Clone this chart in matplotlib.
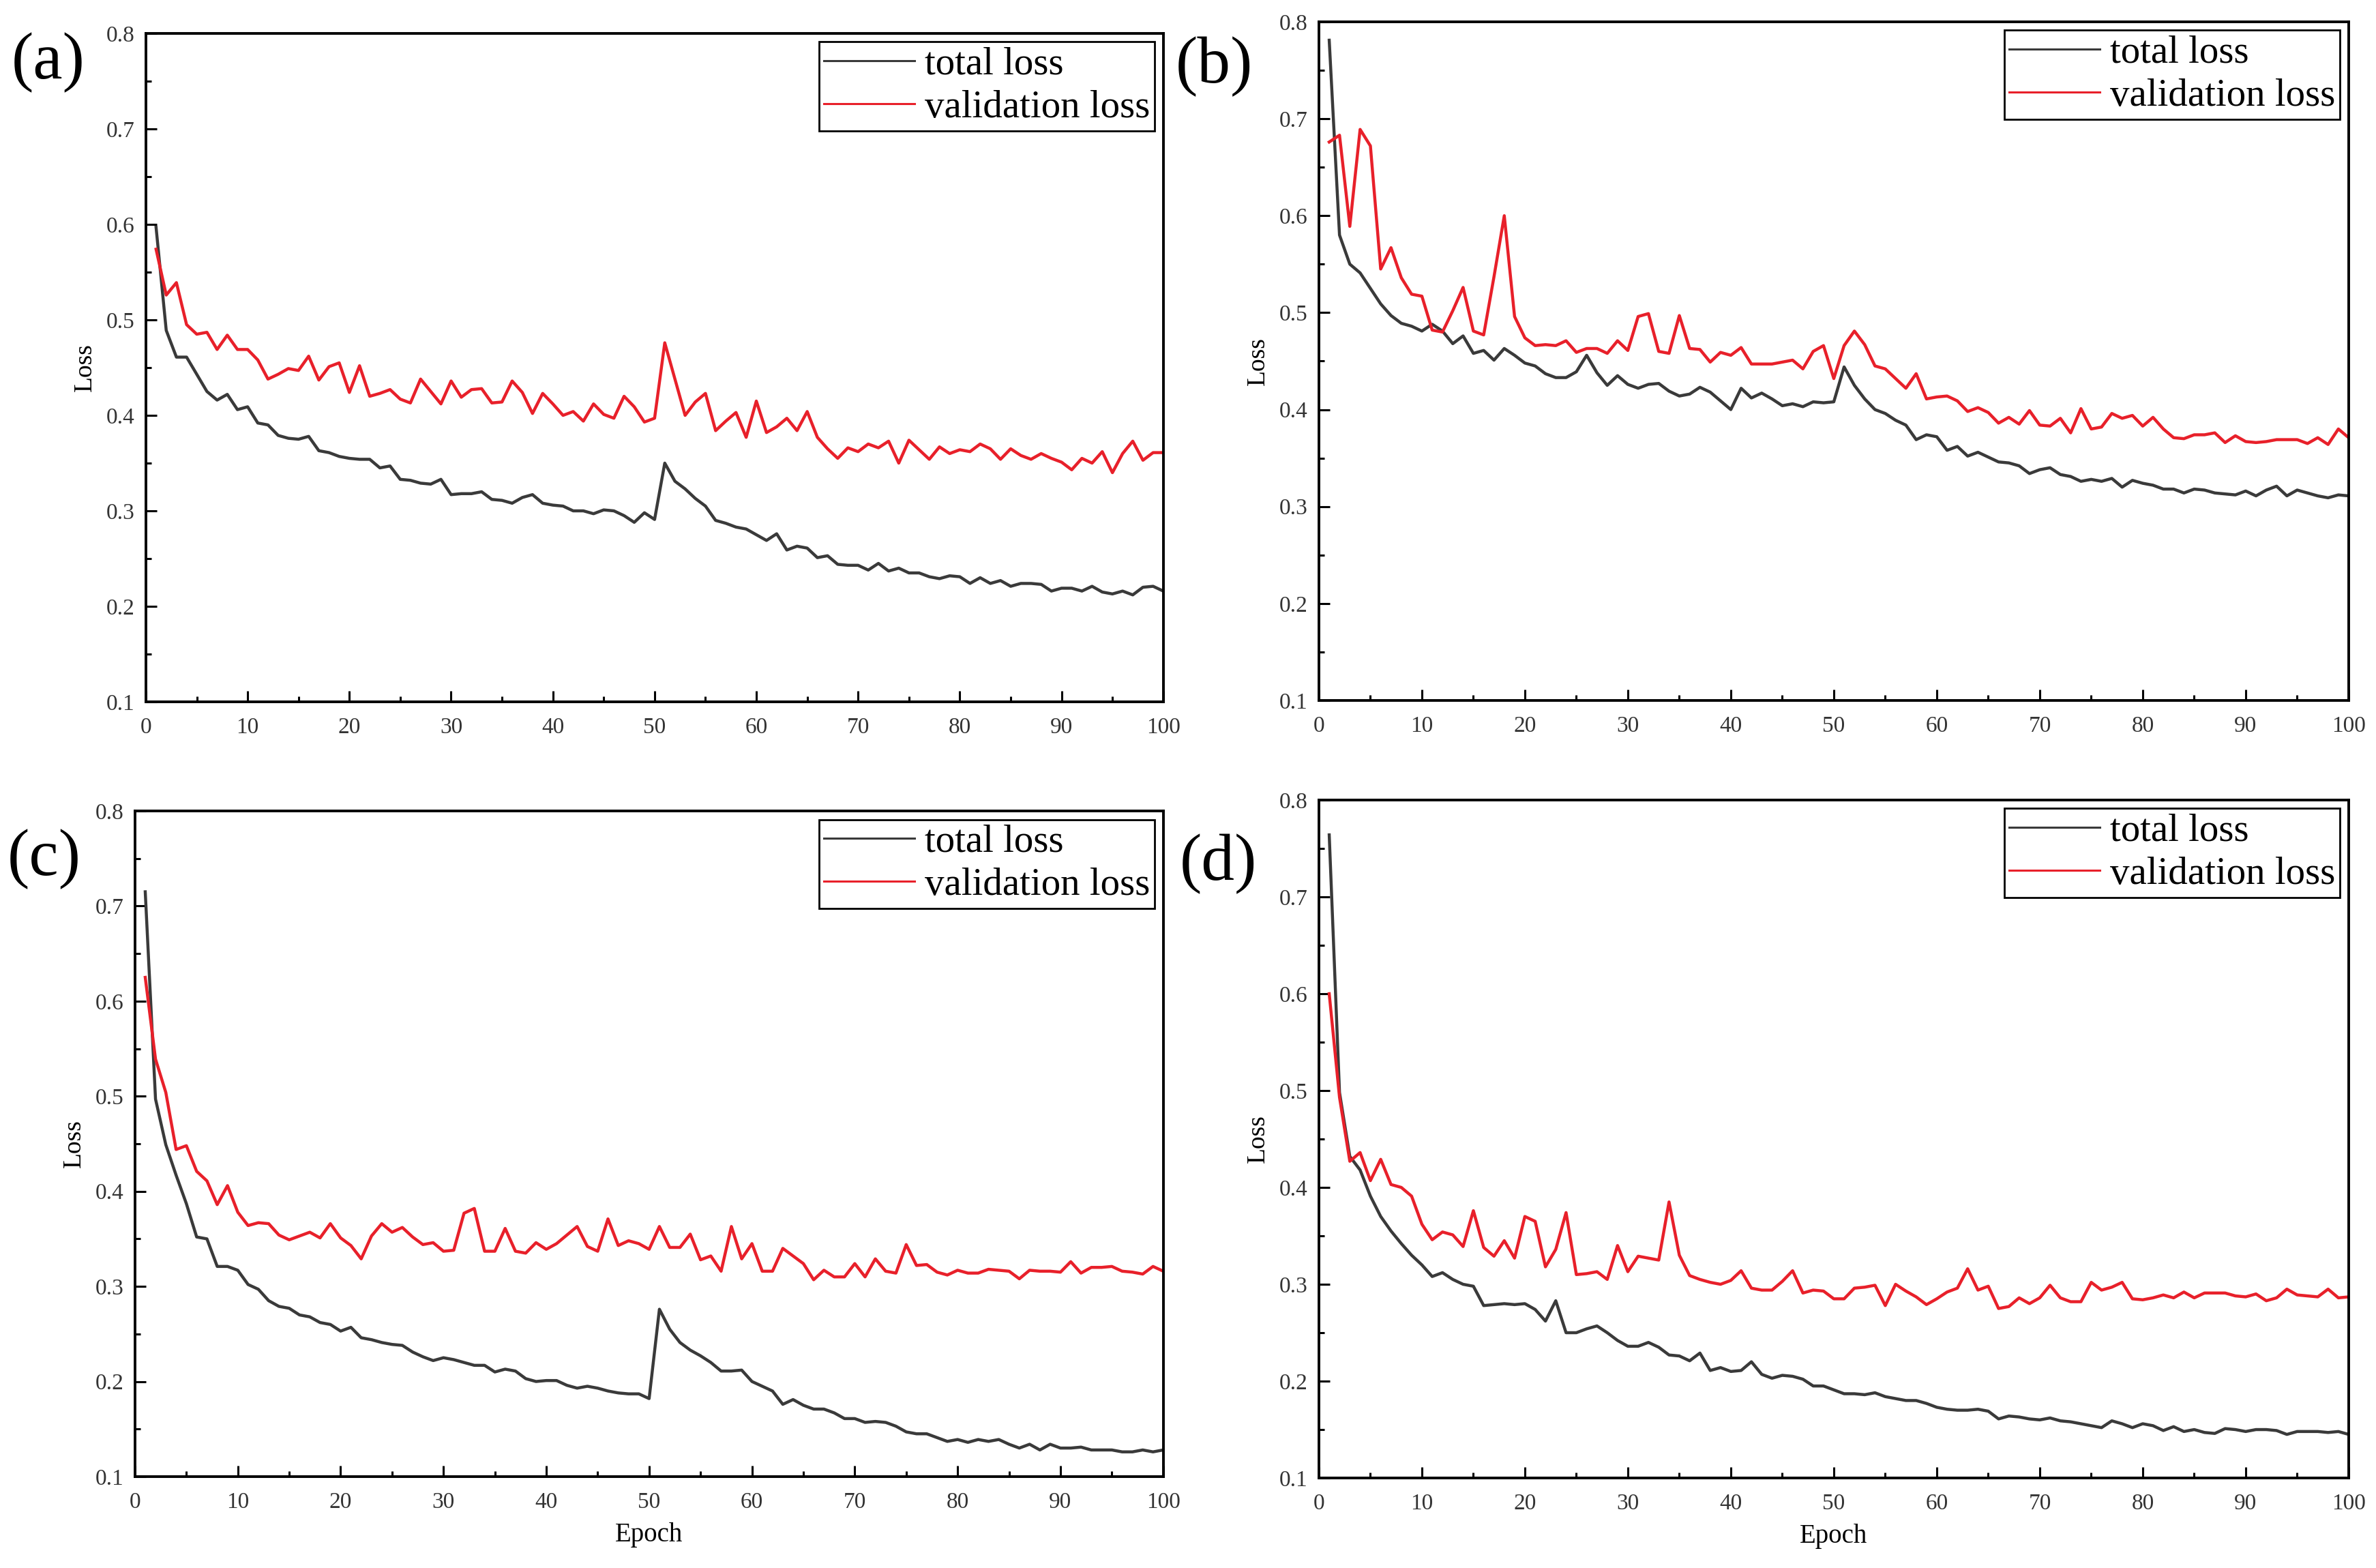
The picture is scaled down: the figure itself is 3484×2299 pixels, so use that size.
"""Training / validation loss curves for four runs, 2x2 panel figure."""
import matplotlib
matplotlib.use("Agg")
import matplotlib.pyplot as plt
from matplotlib.ticker import MultipleLocator, FormatStrFormatter

plt.rcParams["font.family"] = "serif"
plt.rcParams["font.serif"] = ["Liberation Serif", "DejaVu Serif"]

epochs = list(range(1, 101))

a_total = [
    0.597, 0.489, 0.461, 0.461, 0.443, 0.425, 0.416, 0.422, 0.406, 0.409,
    0.392, 0.390, 0.379, 0.376, 0.375, 0.378, 0.363, 0.361, 0.357, 0.355,
    0.354, 0.354, 0.345, 0.347, 0.333, 0.332, 0.329, 0.328, 0.333, 0.317,
    0.318, 0.318, 0.320, 0.312, 0.311, 0.308, 0.314, 0.317, 0.308, 0.306,
    0.305, 0.300, 0.300, 0.297, 0.301, 0.300, 0.295, 0.288, 0.298, 0.291,
    0.350, 0.331, 0.323, 0.313, 0.305, 0.290, 0.287, 0.283, 0.281, 0.275,
    0.269, 0.276, 0.259, 0.263, 0.261, 0.251, 0.253, 0.244, 0.243, 0.243,
    0.238, 0.245, 0.237, 0.240, 0.235, 0.235, 0.231, 0.229, 0.232, 0.231,
    0.224, 0.230, 0.224, 0.227, 0.221, 0.224, 0.224, 0.223, 0.216, 0.219,
    0.219, 0.216, 0.221, 0.215, 0.213, 0.216, 0.212, 0.220, 0.221, 0.216,
]
a_val = [
    0.574, 0.526, 0.539, 0.495, 0.485, 0.487, 0.469, 0.484, 0.469, 0.469,
    0.458, 0.438, 0.443, 0.449, 0.447, 0.462, 0.437, 0.451, 0.455, 0.424,
    0.452, 0.420, 0.423, 0.427, 0.417, 0.413, 0.438, 0.425, 0.412, 0.436,
    0.419, 0.427, 0.428, 0.413, 0.414, 0.436, 0.424, 0.402, 0.423, 0.412,
    0.400, 0.404, 0.394, 0.412, 0.401, 0.397, 0.420, 0.409, 0.393, 0.397,
    0.476, 0.438, 0.400, 0.414, 0.423, 0.384, 0.394, 0.403, 0.377, 0.415,
    0.382, 0.388, 0.397, 0.384, 0.404, 0.377, 0.365, 0.355, 0.366, 0.362,
    0.370, 0.366, 0.373, 0.350, 0.374, 0.364, 0.354, 0.367, 0.360, 0.364,
    0.362, 0.370, 0.365, 0.354, 0.365, 0.358, 0.354, 0.360, 0.355, 0.351,
    0.343, 0.355, 0.350, 0.362, 0.340, 0.360, 0.373, 0.353, 0.361, 0.361,
]

b_total = [
    0.781, 0.580, 0.550, 0.541, 0.525, 0.509, 0.497, 0.489, 0.486, 0.481,
    0.488, 0.481, 0.468, 0.476, 0.458, 0.461, 0.451, 0.463, 0.456, 0.448,
    0.445, 0.437, 0.433, 0.433, 0.439, 0.456, 0.438, 0.425, 0.435, 0.426,
    0.422, 0.426, 0.427, 0.419, 0.414, 0.416, 0.423, 0.418, 0.409, 0.400,
    0.422, 0.412, 0.417, 0.411, 0.404, 0.406, 0.403, 0.408, 0.407, 0.408,
    0.444, 0.425, 0.411, 0.400, 0.396, 0.389, 0.384, 0.369, 0.374, 0.372,
    0.358, 0.362, 0.352, 0.356, 0.351, 0.346, 0.345, 0.342, 0.334, 0.338,
    0.340, 0.333, 0.331, 0.326, 0.328, 0.326, 0.329, 0.320, 0.327, 0.324,
    0.322, 0.318, 0.318, 0.314, 0.318, 0.317, 0.314, 0.313, 0.312, 0.316,
    0.311, 0.317, 0.321, 0.311, 0.317, 0.314, 0.311, 0.309, 0.312, 0.311,
]
b_val = [
    0.676, 0.683, 0.589, 0.689, 0.672, 0.545, 0.567, 0.536, 0.519, 0.517,
    0.482, 0.480, 0.502, 0.526, 0.481, 0.477, 0.537, 0.600, 0.496, 0.474,
    0.466, 0.467, 0.466, 0.471, 0.459, 0.463, 0.463, 0.458, 0.471, 0.461,
    0.496, 0.499, 0.460, 0.458, 0.497, 0.463, 0.462, 0.449, 0.459, 0.456,
    0.464, 0.447, 0.447, 0.447, 0.449, 0.451, 0.442, 0.460, 0.466, 0.432,
    0.466, 0.481, 0.467, 0.445, 0.442, 0.432, 0.422, 0.437, 0.411, 0.413,
    0.414, 0.409, 0.398, 0.402, 0.397, 0.386, 0.392, 0.385, 0.399, 0.384,
    0.383, 0.391, 0.376, 0.401, 0.380, 0.382, 0.396, 0.391, 0.394, 0.383,
    0.392, 0.380, 0.371, 0.370, 0.374, 0.374, 0.376, 0.366, 0.373, 0.367,
    0.366, 0.367, 0.369, 0.369, 0.369, 0.365, 0.371, 0.364, 0.380, 0.371,
]

c_total = [
    0.715, 0.497, 0.449, 0.417, 0.387, 0.352, 0.350, 0.321, 0.321, 0.317,
    0.302, 0.297, 0.285, 0.279, 0.277, 0.270, 0.268, 0.262, 0.260, 0.253,
    0.257, 0.246, 0.244, 0.241, 0.239, 0.238, 0.231, 0.226, 0.222, 0.225,
    0.223, 0.220, 0.217, 0.217, 0.210, 0.213, 0.211, 0.203, 0.200, 0.201,
    0.201, 0.196, 0.193, 0.195, 0.193, 0.190, 0.188, 0.187, 0.187, 0.182,
    0.276, 0.255, 0.241, 0.233, 0.227, 0.220, 0.211, 0.211, 0.212, 0.200,
    0.195, 0.190, 0.176, 0.181, 0.175, 0.171, 0.171, 0.167, 0.161, 0.161,
    0.157, 0.158, 0.157, 0.153, 0.147, 0.145, 0.145, 0.141, 0.137, 0.139,
    0.136, 0.139, 0.137, 0.139, 0.134, 0.130, 0.134, 0.128, 0.134, 0.130,
    0.130, 0.131, 0.128, 0.128, 0.128, 0.126, 0.126, 0.128, 0.126, 0.128,
]
c_val = [
    0.625, 0.539, 0.504, 0.444, 0.448, 0.421, 0.411, 0.386, 0.406, 0.378,
    0.364, 0.367, 0.366, 0.354, 0.349, 0.353, 0.357, 0.351, 0.366, 0.351,
    0.343, 0.329, 0.353, 0.366, 0.357, 0.362, 0.352, 0.344, 0.346, 0.337,
    0.338, 0.377, 0.382, 0.337, 0.337, 0.361, 0.337, 0.335, 0.346, 0.339,
    0.345, 0.354, 0.363, 0.342, 0.337, 0.371, 0.343, 0.348, 0.345, 0.339,
    0.363, 0.341, 0.341, 0.355, 0.328, 0.332, 0.316, 0.363, 0.329, 0.345,
    0.316, 0.316, 0.340, 0.332, 0.324, 0.307, 0.317, 0.310, 0.310, 0.324,
    0.310, 0.329, 0.316, 0.314, 0.344, 0.322, 0.323, 0.315, 0.312, 0.317,
    0.314, 0.314, 0.318, 0.317, 0.316, 0.308, 0.317, 0.316, 0.316, 0.315,
    0.326, 0.314, 0.320, 0.320, 0.321, 0.316, 0.315, 0.313, 0.321, 0.316,
]

d_total = [
    0.764, 0.498, 0.432, 0.418, 0.391, 0.370, 0.355, 0.342, 0.330, 0.320,
    0.308, 0.312, 0.305, 0.300, 0.298, 0.278, 0.279, 0.280, 0.279, 0.280,
    0.274, 0.262, 0.283, 0.250, 0.250, 0.254, 0.257, 0.250, 0.242, 0.236,
    0.236, 0.240, 0.235, 0.227, 0.226, 0.221, 0.229, 0.211, 0.214, 0.210,
    0.211, 0.220, 0.207, 0.203, 0.206, 0.205, 0.202, 0.195, 0.195, 0.191,
    0.187, 0.187, 0.186, 0.188, 0.184, 0.182, 0.180, 0.180, 0.177, 0.173,
    0.171, 0.170, 0.170, 0.171, 0.169, 0.161, 0.164, 0.163, 0.161, 0.160,
    0.162, 0.159, 0.158, 0.156, 0.154, 0.152, 0.159, 0.156, 0.152, 0.156,
    0.154, 0.149, 0.153, 0.148, 0.150, 0.147, 0.146, 0.151, 0.150, 0.148,
    0.150, 0.150, 0.149, 0.145, 0.148, 0.148, 0.148, 0.147, 0.148, 0.145,
]
d_val = [
    0.600, 0.493, 0.427, 0.436, 0.407, 0.429, 0.403, 0.400, 0.391, 0.362,
    0.346, 0.354, 0.351, 0.339, 0.376, 0.338, 0.329, 0.345, 0.327, 0.370,
    0.365, 0.318, 0.336, 0.374, 0.310, 0.311, 0.313, 0.305, 0.340, 0.313,
    0.329, 0.327, 0.325, 0.385, 0.330, 0.309, 0.305, 0.302, 0.300, 0.304,
    0.314, 0.296, 0.294, 0.294, 0.303, 0.314, 0.291, 0.294, 0.293, 0.285,
    0.285, 0.296, 0.297, 0.299, 0.278, 0.300, 0.293, 0.287, 0.279, 0.285,
    0.292, 0.296, 0.316, 0.294, 0.298, 0.275, 0.277, 0.286, 0.280, 0.286,
    0.299, 0.286, 0.282, 0.282, 0.302, 0.294, 0.297, 0.302, 0.285, 0.284,
    0.286, 0.289, 0.286, 0.292, 0.286, 0.291, 0.291, 0.291, 0.288, 0.287,
    0.290, 0.283, 0.286, 0.295, 0.289, 0.288, 0.287, 0.295, 0.286, 0.287,
]

panel_labels = ["(a)", "(b)", "(c)", "(d)"]
series = [(a_total, a_val), (b_total, b_val), (c_total, c_val), (d_total, d_val)]

TOTAL_COLOR = "#3a3a3a"
VAL_COLOR = "#e8202a"

fig = plt.figure(figsize=(34.84, 22.99), dpi=100)

rects = [
    [0.0614, 0.5524, 0.4282, 0.4263],
    [0.5551, 0.5533, 0.4334, 0.4328],
    [0.0568, 0.0583, 0.4328, 0.4245],
    [0.5551, 0.0574, 0.4334, 0.4324],
]
label_pos = [(0.0049, 0.950), (0.4948, 0.9474), (0.0032, 0.4419), (0.4966, 0.4389)]

for i, (rect, (total, val)) in enumerate(zip(rects, series)):
    ax = fig.add_axes(rect)
    ax.plot(epochs, total, color=TOTAL_COLOR, lw=3.2, label="total loss")
    ax.plot(epochs, val, color=VAL_COLOR, lw=3.2, label="validation loss")

    ax.set_xlim(0, 100)
    ax.set_ylim(0.1, 0.8)
    ax.xaxis.set_major_locator(MultipleLocator(10))
    ax.xaxis.set_minor_locator(MultipleLocator(5))
    ax.yaxis.set_major_locator(MultipleLocator(0.1))
    ax.yaxis.set_minor_locator(MultipleLocator(0.05))
    ax.yaxis.set_major_formatter(FormatStrFormatter("%.1f"))

    for side in ax.spines.values():
        side.set_linewidth(2.8)
    ax.tick_params(which="both", direction="in", top=False, right=False,
                   width=2.2, labelsize=24, labelcolor="#333333")
    ax.tick_params(which="major", length=11.5)
    ax.tick_params(which="minor", length=5.5)
    ax.tick_params(axis="x", pad=16)
    ax.tick_params(axis="y", pad=12)

    ax.set_ylabel("Loss", fontsize=27, labelpad=10)
    if i >= 2:
        ax.set_xlabel("Epoch", fontsize=28, labelpad=10)

    leg = ax.legend(loc="upper right", bbox_to_anchor=(1, 1), fontsize=41,
                    frameon=True, fancybox=False, borderpad=0.13,
                    labelspacing=0.2, handlelength=2.33, handletextpad=0.26,
                    borderaxespad=0.22)
    for handle in leg.get_lines():
        handle.set_linewidth(2.2)
    frame = leg.get_frame()
    frame.set_edgecolor("black")
    frame.set_linewidth(2.0)
    frame.set_alpha(1)

    fig.text(label_pos[i][0], label_pos[i][1], panel_labels[i], fontsize=70,
             ha="left", va="baseline")

fig.savefig("out.png", dpi=100)
